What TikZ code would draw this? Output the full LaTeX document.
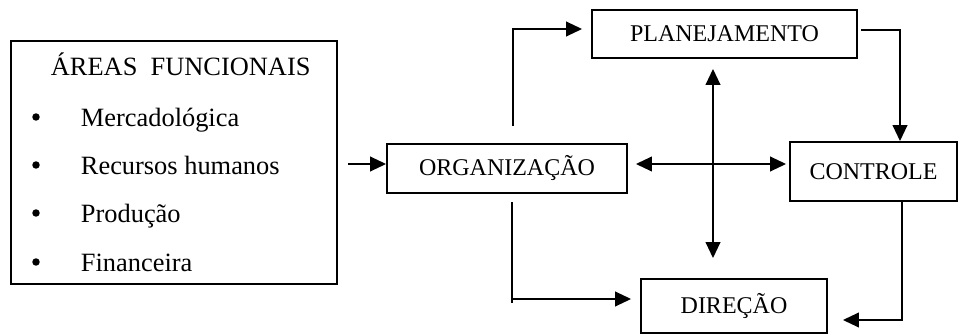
\documentclass[tikz,border=0pt]{standalone}
\usepackage{fontspec}
\setmainfont{Liberation Serif}
\usetikzlibrary{arrows.meta,calc}

\begin{document}
\begin{tikzpicture}[x=0.75pt,y=-0.75pt,
                    line width=1.4pt,
                    box/.style={draw,rectangle,inner sep=0pt,font=\fontsize{18}{20}\selectfont},
                    arr/.style={-{Triangle[length=12pt,width=11pt]}},
                    arrs/.style={{Triangle[length=12pt,width=11pt]}-{Triangle[length=12pt,width=11pt]}},
                    item/.style={anchor=base west,inner sep=0pt,font=\fontsize{19.8}{22}\selectfont},
                    dot/.style={circle,fill,inner sep=0pt,minimum size=5.6pt}
]
\useasboundingbox (0,0) rectangle (960,335);

\node [box, minimum width=244.5pt, minimum height=182.25pt] at (174,162.5) (areas) {};
\node [box, minimum width=180pt, minimum height=36.75pt] at (507,168.5) (org) {ORGANIZAÇÃO};
\node [box, minimum width=198.75pt, minimum height=36pt] at (724.5,34) (plan) {PLANEJAMENTO};
\node [box, minimum width=125.25pt, minimum height=44.25pt] at (873.5,171.5) (ctrl) {CONTROLE};
\node [box, minimum width=139.5pt, minimum height=40.5pt] at (734,306) (dir) {DIREÇÃO};
%
\node [item] at (50,76) (title) {ÁREAS\ \ FUNCIONAIS};
\foreach \txt/\yy [count=\i] in {Mercadológica/126, Recursos humanos/174, Produção/222, Financeira/271}{
  \node [item] at (80,\yy) (item\i) {\txt};
  \node [dot] at (36,\yy-9) (dot\i) {};
}
%
\coordinate (feed) at (348,164);
\draw [arr] (feed) -- (feed -| org.west);
\coordinate (o2p) at (513,126);
\draw [arr] (o2p) |- ($(plan.west)+(-9,-5)$);
\coordinate (p2c) at (861,30);
\draw [arr] (p2c) -| ($(ctrl.north)+(26.5,0)$);
%
\coordinate (axis) at (713,164);
\draw [arrs, shorten <=7.5pt, shorten >=15pt] (axis |- plan.south) -- (axis |- dir.north);
\draw [arrs, shorten <=6pt, shorten >=2.25pt] (axis -| org.east) -- (axis -| ctrl.west);
%
\coordinate (o2d) at (512,202);
\draw (o2d) -- ++(0,101);
\draw [arr] (o2d) |- ($(dir.west)+(-9,-7)$);
\draw [arr] ($(ctrl.south)+(28.5,0)$) |- ($(dir.east)+(15,14)$);
\end{tikzpicture}
\end{document}
